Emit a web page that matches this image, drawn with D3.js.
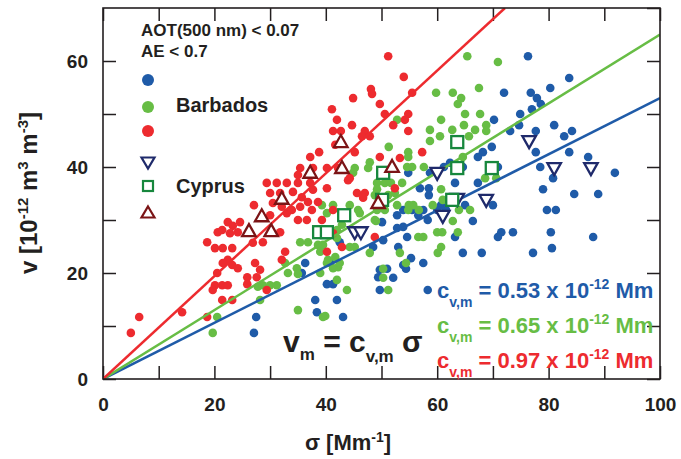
<!DOCTYPE html>
<html><head><meta charset="utf-8">
<script src="https://cdn.jsdelivr.net/npm/d3@7"></script>
<style>
html,body{margin:0;padding:0;background:#fff;}
svg text{font-family:"Liberation Sans",Arial,Helvetica,sans-serif;font-weight:bold;}
</style></head>
<body><svg id="c" width="681" height="459"></svg>
<script>
// ---- data (σ [Mm^-1], v [1e-12 m3/m3]) ----
const blueDots = [[76.3,60.9],[83.7,56.8],[80.3,54.9],[72.0,54.0],[76.8,54.0],[77.9,53.0],[78.6,51.9],[77.0,50.9],[74.9,50.0],[70.2,48.9],[81.0,47.9],[77.7,46.8],[84.2,46.8],[74.7,47.9],[73.1,46.8],[82.8,45.8],[69.8,43.8],[68.2,42.8],[67.3,41.9],[83.7,42.8],[87.1,41.9],[77.7,42.8],[91.9,38.9],[78.5,40.0],[80.8,37.9],[64.6,40.0],[62.3,40.8],[54.8,38.9],[61.2,40.0],[58.7,38.9],[63.2,37.0],[67.3,37.0],[56.9,36.0],[58.5,36.0],[58.5,34.7],[79.0,35.8],[84.6,34.9],[88.9,34.9],[65.0,32.8],[70.0,32.8],[60.7,32.8],[57.5,31.9],[60.0,31.9],[61.6,31.9],[52.8,30.9],[53.9,31.9],[55.5,31.9],[56.6,30.9],[58.3,30.0],[66.4,29.8],[79.7,31.9],[81.3,31.9],[50.1,29.6],[53.9,28.7],[54.6,26.8],[52.8,28.5],[50.3,26.2],[48.5,24.9],[53.0,24.9],[55.3,22.8],[54.4,20.8],[51.0,20.8],[57.5,21.9],[63.2,26.8],[64.6,23.8],[68.0,23.8],[71.5,27.7],[73.6,27.7],[70.9,26.8],[77.2,23.8],[80.4,27.7],[80.6,24.7],[88.0,26.8],[52.1,19.1],[70.9,40.0],[50.6,33.2],[42.5,25.8],[36.3,21.9],[35.7,20.0],[40.2,17.9],[41.3,17.9],[38.1,14.9],[42.0,14.9],[38.4,12.6],[43.1,11.7],[27.5,11.7],[27.1,8.7],[49.7,20.6],[49.7,16.8],[40.8,21.9],[49.4,19.2],[58.3,16.8],[53.9,21.5]];
const greenDots = [[65.4,60.9],[70.9,59.8],[67.5,54.9],[59.8,54.0],[62.8,54.0],[64.3,53.0],[63.7,51.9],[65.0,50.0],[67.7,50.0],[60.7,48.9],[64.8,47.9],[68.8,47.9],[58.7,47.0],[62.7,47.0],[66.8,47.0],[68.8,46.8],[60.5,45.8],[65.7,45.8],[58.7,44.9],[51.3,43.8],[52.8,48.9],[54.8,42.8],[54.8,41.9],[64.6,41.9],[54.6,40.0],[55.5,40.0],[57.6,40.0],[68.6,37.9],[70.6,37.9],[47.9,40.9],[47.6,39.8],[45.2,39.8],[44.9,38.9],[49.2,37.0],[50.6,37.0],[51.7,37.0],[53.7,37.0],[52.4,35.1],[49.2,35.8],[60.7,35.8],[48.8,34.7],[51.2,34.7],[49.2,31.9],[50.6,31.9],[52.8,32.8],[54.9,32.8],[55.7,32.8],[56.7,31.9],[59.2,32.8],[61.0,33.8],[63.9,31.9],[65.9,31.9],[62.8,29.8],[60.0,27.7],[60.9,27.7],[63.7,27.7],[56.6,26.8],[57.5,26.8],[60.7,24.9],[60.1,23.8],[53.3,23.8],[54.4,21.9],[50.3,20.8],[50.3,19.1],[49.0,29.8],[44.3,32.8],[45.8,31.9],[42.9,29.1],[42.0,28.1],[42.0,26.6],[36.8,25.8],[35.4,25.8],[38.6,25.3],[39.5,25.3],[44.3,24.9],[45.2,24.9],[47.9,23.8],[41.7,23.0],[40.2,21.9],[42.2,21.1],[34.8,20.9],[35.0,19.8],[51.2,16.8],[43.8,16.8],[35.0,13.0],[39.9,11.9],[48.8,30.0],[39.3,32.8],[40.2,31.3],[41.3,32.8],[39.0,24.0],[40.4,22.5],[41.3,20.9],[39.0,20.0],[42.5,21.9],[33.2,20.0],[27.8,17.4],[28.7,17.7],[30.0,17.7],[28.2,14.9],[20.5,11.7],[19.7,8.7],[39.5,11.7],[42.0,18.7],[46.1,31.3],[44.9,28.1],[32.7,21.9],[31.2,17.7],[54.8,31.9]];
const redDots = [[51.2,60.9],[54.0,57.0],[48.1,54.7],[48.3,53.8],[55.5,54.0],[44.9,53.0],[49.7,51.9],[41.1,50.9],[50.6,50.0],[54.8,50.0],[42.0,48.9],[54.2,48.9],[44.7,47.9],[52.1,47.9],[41.3,46.8],[42.7,46.8],[54.8,46.8],[47.0,46.8],[46.5,45.8],[47.9,45.8],[41.7,44.2],[45.2,42.8],[38.8,42.8],[37.2,41.9],[49.7,41.9],[57.3,42.8],[53.3,41.7],[35.4,39.8],[37.7,39.8],[40.2,39.8],[42.2,39.8],[44.3,37.9],[35.0,38.5],[35.0,37.0],[37.2,37.0],[37.7,35.7],[40.2,36.0],[45.6,35.1],[47.0,35.1],[52.4,36.0],[29.4,37.0],[31.2,37.0],[33.0,37.0],[30.0,35.1],[31.8,35.1],[34.1,35.3],[35.7,34.3],[44.0,37.5],[27.1,32.8],[30.5,33.2],[32.1,32.5],[33.0,31.3],[35.4,32.5],[36.8,33.4],[36.6,30.0],[35.0,30.0],[30.0,30.9],[24.6,29.6],[22.4,29.6],[20.6,27.7],[22.8,27.5],[24.2,27.7],[18.7,25.8],[20.1,24.7],[21.5,24.7],[23.2,24.7],[26.9,25.7],[28.7,25.8],[31.8,27.7],[22.4,22.5],[21.5,21.9],[23.2,21.5],[24.2,20.9],[27.3,21.9],[28.2,20.6],[27.6,19.2],[20.5,20.0],[25.9,19.2],[20.1,17.7],[21.4,17.7],[22.4,17.7],[25.9,17.9],[19.7,16.8],[29.4,16.8],[21.4,14.9],[23.2,14.9],[32.1,22.5],[32.7,24.0],[14.2,12.6],[18.7,11.7],[6.5,11.7],[5.0,8.7],[40.2,24.0],[41.3,27.5],[48.8,26.8],[42.9,24.9],[41.3,31.9],[39.3,30.0],[23.3,28.9],[21.4,28.1],[33.9,31.9],[38.6,33.4],[37.5,31.9],[46.7,34.2]];
const cyprusDown = [[60.0,38.7],[76.5,44.7],[81.0,39.6],[87.6,39.6],[68.8,33.6],[61.0,30.6],[63.6,33.8],[45.2,27.5],[46.3,27.5]];
const cyprusSquare = [[63.6,44.7],[50.3,38.9],[63.6,39.8],[69.8,39.8],[50.1,33.8],[62.7,33.8],[43.3,30.9],[38.8,27.7],[40.2,27.7]];
const cyprusUp = [[42.7,44.9],[42.9,40.0],[37.2,39.1],[51.9,40.2],[32.1,34.2],[28.5,30.9],[26.2,28.1],[30.2,28.1],[49.4,33.4]];
const slopes = [0.53, 0.65, 0.97];
const slopeLabels = ["0.53", "0.65", "0.97"];
const xTicks = [0,10,20,30,40,50,60,70,80,90,100];
const yTicks = [0,10,20,30,40,50,60,70];

const BLUE="#1f5ba8", GREEN="#67bd45", RED="#ed2b2f", NAVY="#1f2a6b", DGREEN="#17873d", DRED="#7b1416", INK="#231f20";
const lineColors=[BLUE,GREEN,RED];

const svg=d3.select("#c");
const L=103,R=660,T=8,B=379;
const x=d3.scaleLinear().domain([0,100]).range([L,R]);
const y=d3.scaleLinear().domain([0,70]).range([B,T]);

svg.append("clipPath").attr("id","clip").append("rect").attr("x",L).attr("y",T).attr("width",R-L).attr("height",B-T);

// axes ticks
const tk=13;
const fmt=d=> d%20===0? d : "";
const gx=svg.append("g").attr("transform",`translate(0,${B})`)
  .call(d3.axisBottom(x).tickValues(xTicks).tickSize(-tk).tickSizeOuter(0).tickPadding(19).tickFormat(fmt));
const gy=svg.append("g").attr("transform",`translate(${L},0)`)
  .call(d3.axisLeft(y).tickValues(yTicks.filter(d=>d<70)).tickSize(-tk).tickSizeOuter(0).tickPadding(15).tickFormat(fmt));
const gt=svg.append("g").attr("transform",`translate(0,${T})`)
  .call(d3.axisTop(x).tickValues(xTicks).tickSize(-tk).tickSizeOuter(0).tickFormat(""));
const gr=svg.append("g").attr("transform",`translate(${R},0)`)
  .call(d3.axisRight(y).tickValues(yTicks).tickSize(-tk).tickSizeOuter(0).tickFormat(""));
[gx,gy,gt,gr].forEach(g=>{
  g.select(".domain").remove();
  g.selectAll("line").attr("stroke",INK).attr("stroke-width",1.5);
  g.selectAll("text").attr("fill",INK).style("font-size","19px").style("font-family",'"Liberation Sans",Arial,sans-serif').style("font-weight","bold");
});

const plot=svg.append("g").attr("clip-path","url(#clip)");
function dots(data,color){
  plot.append("g").selectAll("circle").data(data).join("circle")
    .attr("cx",d=>x(d[0])).attr("cy",d=>y(d[1])).attr("r",4.3).attr("fill",color);
}
dots(blueDots,BLUE); dots(greenDots,GREEN); dots(redDots,RED);

// fit lines
slopes.forEach((s,i)=>{
  const xe=Math.min(100,70/s);
  plot.append("line").attr("x1",x(0)).attr("y1",y(0)).attr("x2",x(xe)).attr("y2",y(s*xe))
    .attr("stroke",lineColors[i]).attr("stroke-width",2.5);
});

// open markers
function triPath(w,h,down){
  return down? `M${-w/2},${-h/2}L${w/2},${-h/2}L0,${h/2}Z` : `M0,${-h/2}L${w/2},${h/2}L${-w/2},${h/2}Z`;
}
function markers(data,kind,color){
  const g=plot.append("g");
  data.forEach(d=>{
    const cx=x(d[0]), cy=y(d[1]);
    if(kind==="sq") g.append("rect").attr("x",cx-6).attr("y",cy-6).attr("width",12).attr("height",12)
      .attr("fill","#fff").attr("stroke",color).attr("stroke-width",2.3);
    else g.append("path").attr("transform",`translate(${cx},${cy})`).attr("d",triPath(13.5,12,kind==="down"))
      .attr("fill","#fff").attr("stroke",color).attr("stroke-width",2.3).attr("stroke-linejoin","miter");
  });
}
markers(cyprusDown,"down",NAVY); markers(cyprusSquare,"sq",DGREEN); markers(cyprusUp,"up",DRED);

// frame
svg.append("rect").attr("x",L).attr("y",T).attr("width",R-L).attr("height",B-T)
  .attr("fill","none").attr("stroke",INK).attr("stroke-width",1.6);

// legend
svg.append("text").attr("x",141).attr("y",36).attr("fill",INK).style("font-size","17px").text("AOT(500 nm) < 0.07");
svg.append("text").attr("x",141).attr("y",57).attr("fill",INK).style("font-size","17px").text("AE < 0.7");
const lx=148;
svg.append("circle").attr("cx",lx).attr("cy",80).attr("r",6).attr("fill",BLUE);
svg.append("circle").attr("cx",lx).attr("cy",107).attr("r",6).attr("fill",GREEN);
svg.append("circle").attr("cx",lx).attr("cy",131).attr("r",6).attr("fill",RED);
svg.append("path").attr("transform",`translate(${lx},163)`).attr("d",triPath(13,11,true)).attr("fill","#fff").attr("stroke",NAVY).attr("stroke-width",2.2);
svg.append("rect").attr("x",lx-5).attr("y",181).attr("width",10).attr("height",10).attr("fill","#fff").attr("stroke",DGREEN).attr("stroke-width",2.2);
svg.append("path").attr("transform",`translate(${lx},212)`).attr("d",triPath(13,11,false)).attr("fill","#fff").attr("stroke",DRED).attr("stroke-width",2.2);
svg.append("text").attr("x",176).attr("y",112).attr("fill",INK).style("font-size","20px").text("Barbados");
svg.append("text").attr("x",176).attr("y",193).attr("fill",INK).style("font-size","20px").text("Cyprus");

// axis titles
const yl=svg.append("text").attr("transform","translate(37,193) rotate(-90)").attr("text-anchor","middle").attr("fill",INK).style("font-size","24px");
yl.append("tspan").text("v [10");
yl.append("tspan").attr("dy",-9).style("font-size","15px").text("-12");
yl.append("tspan").attr("dy",9).text(" m");
yl.append("tspan").attr("dy",-9).style("font-size","15px").text("3");
yl.append("tspan").attr("dy",9).text(" m");
yl.append("tspan").attr("dy",-9).style("font-size","15px").text("-3");
yl.append("tspan").attr("dy",9).text("]");

const xl=svg.append("text").attr("x",348).attr("y",450).attr("text-anchor","middle").attr("fill",INK).style("font-size","22px");
xl.append("tspan").text("σ [Mm");
xl.append("tspan").attr("dy",-8).style("font-size","14px").text("-1");
xl.append("tspan").attr("dy",8).text("]");

// equation
const eq=svg.append("text").attr("x",283).attr("y",352).attr("fill",INK).style("font-size","30px");
eq.append("tspan").text("v");
eq.append("tspan").attr("dy",8).style("font-size","17px").text("m");
eq.append("tspan").attr("dy",-8).text(" = c");
eq.append("tspan").attr("dy",10).style("font-size","17px").text("v,m");
eq.append("tspan").attr("dy",-10).text(" σ");

// coefficient labels
slopes.forEach((s,i)=>{
  const t=svg.append("text").attr("x",437).attr("y",298+35*i).attr("fill",lineColors[i]).style("font-size","22px");
  t.append("tspan").text("c");
  t.append("tspan").attr("dy",9).style("font-size","14px").text("v,m");
  t.append("tspan").attr("dy",-9).text(` = ${slopeLabels[i]} x 10`);
  t.append("tspan").attr("dy",-9).style("font-size","14px").text("-12");
  t.append("tspan").attr("dy",9).text(" Mm");
});
</script></body></html>
